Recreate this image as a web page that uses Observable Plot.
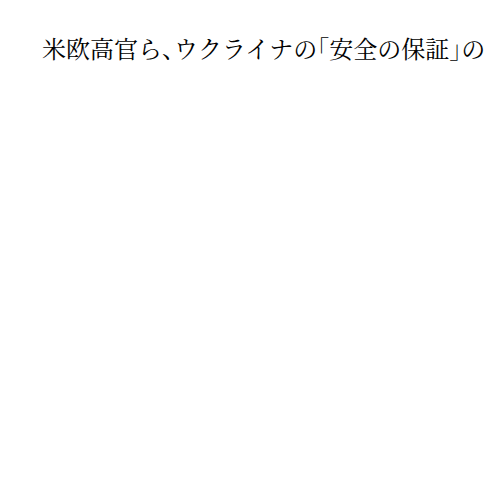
<!DOCTYPE html>
<html>
<head>
<meta charset="utf-8">
<script src="https://cdn.jsdelivr.net/npm/d3@7"></script>
<script src="https://cdn.jsdelivr.net/npm/@observablehq/plot@0.6"></script>
<style>
  html, body { margin: 0; padding: 0; background: #fff; width: 500px; height: 500px; overflow: hidden; }
  #title {
    position: absolute; left: 42px; top: 33px;
    font-family: "Noto Serif CJK JP", "Noto Sans CJK JP", serif;
    font-size: 24px; line-height: 30px; color: #000;
    white-space: nowrap; font-feature-settings: "halt";
  }
  #chart { position: absolute; left: 0; top: 80px; }
</style>
</head>
<body>
<div id="title"></div>
<div id="chart"></div>
<script>
const titleText = "米欧高官ら、ウクライナの「安全の保証」の";
// The reference shows no plotted data: empty series.
const categories = [];
const values = [];

document.getElementById("title").textContent = titleText;

const data = categories.map((c, i) => ({category: c, value: values[i]}));
const plot = Plot.plot({
  width: 500,
  height: 420,
  axis: null,
  marks: [
    Plot.barY(data, {x: "category", y: "value", fill: "#4a7fb5"})
  ]
});
document.getElementById("chart").appendChild(plot);
</script>
</body>
</html>
